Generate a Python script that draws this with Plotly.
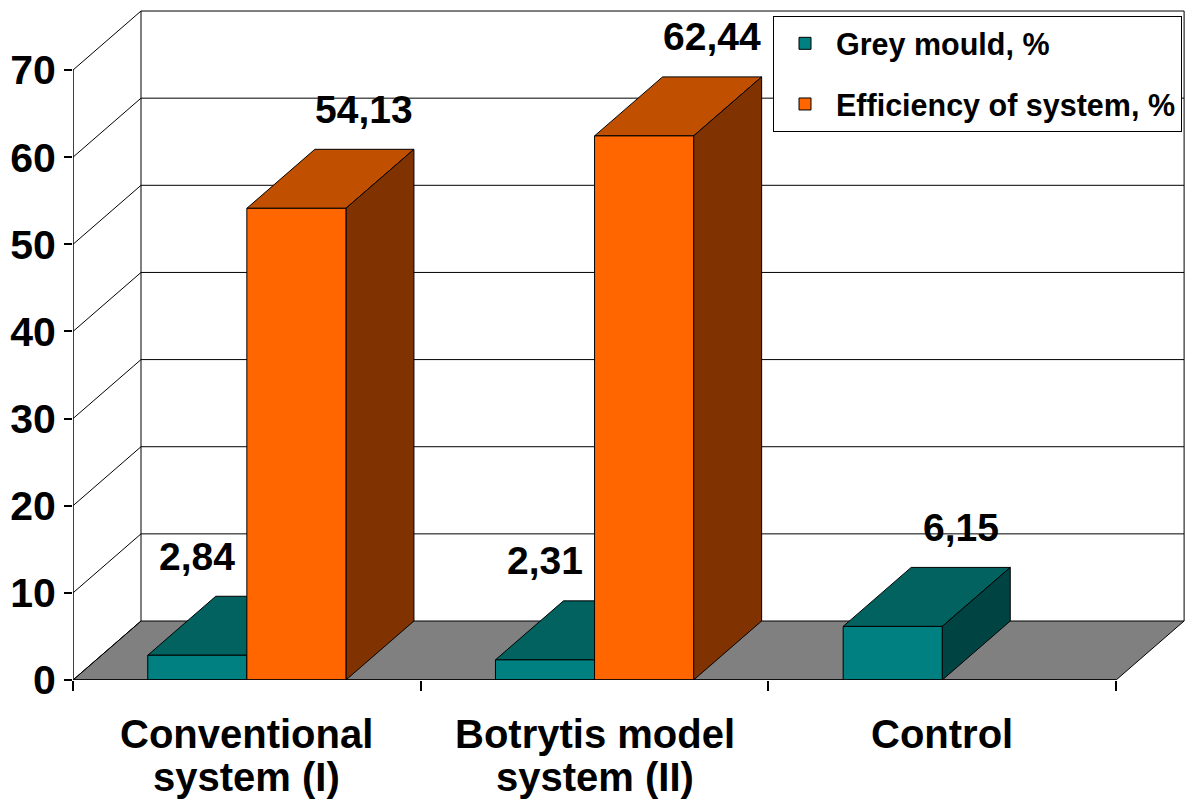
import plotly.graph_objects as go

# ---------------- data ----------------
categories = ["Conventional<br>system (I)", "Botrytis model<br>system (II)", "Control"]
series_names = ["Grey mould, %", "Efficiency of system, %"]
grey_mould = [2.84, 2.31, 6.15]
efficiency = [54.13, 62.44, None]
y_ticks = [0, 10, 20, 30, 40, 50, 60, 70]

# ---------------- styling / geometry ----------------
W, H = 1188, 809
M_L, M_R, M_T, M_B = 73, 0, 0, 129
PX_CAT = 347.7          # pixels per category
PX_UNIT = 8.714         # pixels per value unit
X0 = -0.5
X_MAX = X0 + (W - M_L - M_R) / PX_CAT
Y_MAX = (H - M_T - M_B) / PX_UNIT
DX = 68 / PX_CAT        # depth offset (x, in category units)
DY = 59 / PX_UNIT       # depth offset (y, in value units)
BARGAP = 0.43
BW = (1 - BARGAP) / 2   # width of one bar

FONT = "Liberation Sans, Arial, sans-serif"
front_cols = ["#008080", "#FF6600"]
top_cols = ["#016260", "#C04F00"]
side_cols = ["#004343", "#803300"]

series_vals = [grey_mould, efficiency]
n_cat = len(categories)
x_last = X0 + n_cat
y_top = y_ticks[-1]

fig = go.Figure()

# top and side faces (behind the front faces)
for s, vals in enumerate(series_vals):
    tx, ty, sx, sy = [], [], [], []
    for i, v in enumerate(vals):
        if v is None:
            continue
        xl = i - BW + s * BW
        xr = xl + BW
        tx += [xl, xr, xr + DX, xl + DX, xl, None]
        ty += [v, v, v + DY, v + DY, v, None]
        sx += [xr, xr, xr + DX, xr + DX, xr, None]
        sy += [0, v, v + DY, DY, 0, None]
    fig.add_trace(go.Scatter(x=tx, y=ty, mode="lines", fill="toself",
                             fillcolor=top_cols[s], line=dict(color="black", width=1),
                             showlegend=False, hoverinfo="skip"))
    fig.add_trace(go.Scatter(x=sx, y=sy, mode="lines", fill="toself",
                             fillcolor=side_cols[s], line=dict(color="black", width=1),
                             showlegend=False, hoverinfo="skip"))

# front faces as real bars on an overlaid axis pair (drawn above the faces)
for s, vals in enumerate(series_vals):
    fig.add_trace(go.Bar(x=list(range(n_cat)), y=vals, name=series_names[s],
                         marker=dict(color=front_cols[s], line=dict(color="black", width=1)),
                         xaxis="x2", yaxis="y2", legendgroup=series_names[s]))

# ---------------- walls, floor, grid ----------------
shapes = []
shapes.append(dict(type="path", xref="x", yref="y", layer="below",
                   path=f"M{X0},0 L{x_last},0 L{x_last + DX},{DY} L{X0 + DX},{DY} Z",
                   fillcolor="#808080", line=dict(color="black", width=1)))
for v in y_ticks:
    shapes.append(dict(type="line", xref="x", yref="y", layer="below",
                       x0=X0, y0=v, x1=X0 + DX, y1=v + DY,
                       line=dict(color="black", width=1)))
    if v > 0:
        shapes.append(dict(type="line", xref="x", yref="y", layer="below",
                           x0=X0 + DX, y0=v + DY, x1=x_last + DX, y1=v + DY,
                           line=dict(color="black", width=1)))
for xv in (X0 + DX, x_last + DX):
    shapes.append(dict(type="line", xref="x", yref="y", layer="below",
                       x0=xv, y0=DY, x1=xv, y1=y_top + DY,
                       line=dict(color="black", width=1)))
shapes.append(dict(type="line", xref="x", yref="y", layer="above",
                   x0=X0, y0=0, x1=X0, y1=y_top, line=dict(color="black", width=1.5)))
shapes.append(dict(type="line", xref="x", yref="y", layer="above",
                   x0=X0, y0=0, x1=x_last, y1=0, line=dict(color="black", width=1.5)))

# ---------------- annotations ----------------
annotations = []
for i, c in enumerate(categories):
    for k, line in enumerate(c.split("<br>")):
        annotations.append(dict(x=i, y=0, xref="x", yref="y", text=line,
                                showarrow=False, xanchor="center", yanchor="top",
                                yshift=-30 - k * 43,
                                font=dict(family=FONT, size=40, color="black", weight="bold")))
for s, vals in enumerate(series_vals):
    for i, v in enumerate(vals):
        if v is None:
            continue
        xc = i - BW / 2 + s * BW
        nxt = series_vals[s + 1][i] if s + 1 < len(series_vals) else None
        blocked = nxt is not None and nxt > v + DY
        xl = xc if blocked else xc + DX
        annotations.append(dict(x=xl, y=v + DY, xref="x", yref="y",
                                text=f"{v:.2f}".replace(".", ","), showarrow=False,
                                xanchor="center", yanchor="middle", yshift=40,
                                font=dict(family=FONT, size=39, color="black", weight="bold")))

axis_common = dict(showgrid=False, zeroline=False)
fig.update_layout(
    width=W, height=H,
    margin=dict(l=M_L, r=M_R, t=M_T, b=M_B, pad=0),
    paper_bgcolor="white", plot_bgcolor="rgba(0,0,0,0)",
    barmode="group", bargap=BARGAP, bargroupgap=0,
    xaxis=dict(range=[X0, X_MAX], tickvals=[X0 + k for k in range(n_cat + 1)],
               ticks="outside", ticklen=10, tickwidth=1.5, tickcolor="black",
               showticklabels=False, showline=False, **axis_common),
    yaxis=dict(range=[0, Y_MAX], tickvals=y_ticks, ticks="outside", ticklen=8,
               tickwidth=1.5, tickcolor="black", showline=False, ticklabelstandoff=0,
               tickfont=dict(family=FONT, size=41, color="black", weight="bold"),
               **axis_common),
    xaxis2=dict(range=[X0, X_MAX], overlaying="x", visible=False, **axis_common),
    yaxis2=dict(range=[0, Y_MAX], overlaying="y", visible=False, **axis_common),
    shapes=shapes,
    annotations=annotations,
    legend=dict(x=(773 - M_L) / (W - M_L - M_R), y=1 - 16 / (H - M_T - M_B),
                xanchor="left", yanchor="top", bgcolor="white",
                bordercolor="black", borderwidth=1, traceorder="grouped",
                tracegroupgap=18, itemwidth=52,
                font=dict(family=FONT, size=30.5, color="black", weight="bold")),
)

fig.write_html("out.html", config={"displayModeBar": False},
               post_script="document.body.style.margin='0';")
